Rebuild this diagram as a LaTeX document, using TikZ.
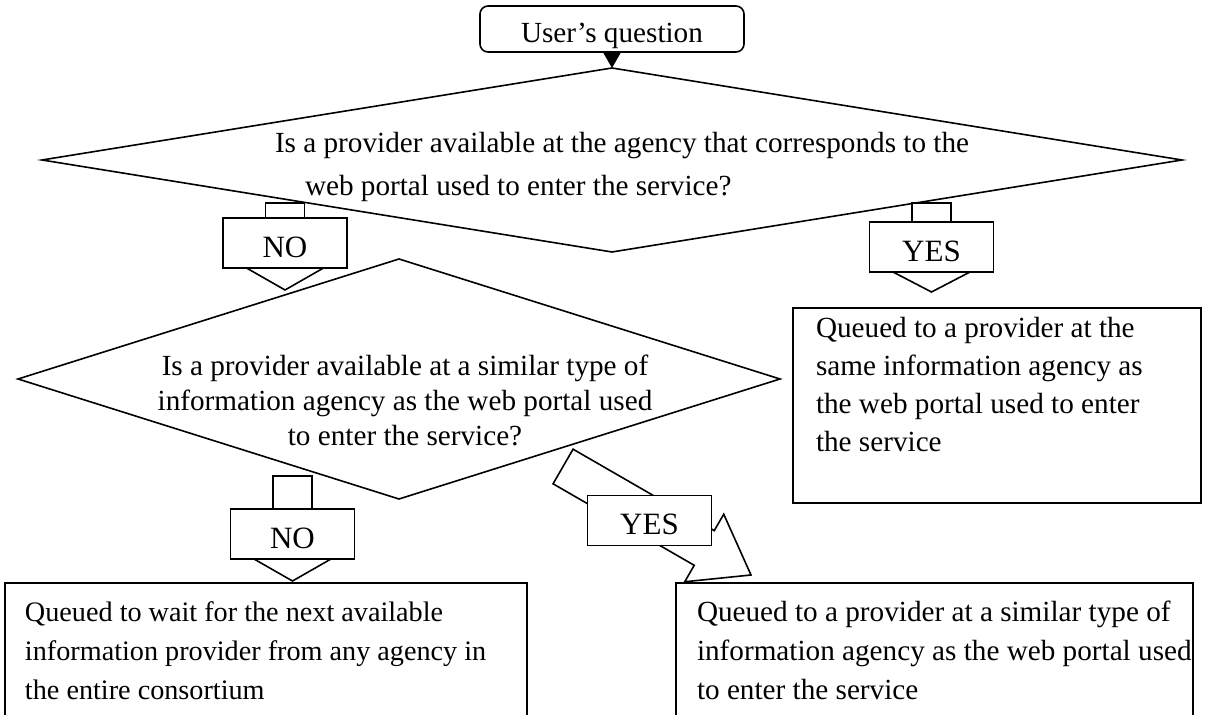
\documentclass[tikz,border=0pt]{standalone}
\usepackage{fontspec}
\setmainfont{Liberation Serif}
\usetikzlibrary{arrows.meta,calc,shapes.geometric}
\begin{document}
\begin{tikzpicture}[x=0.5pt,y=-0.5pt,line width=0.8pt,
  every node/.style={inner sep=0pt,outer sep=0pt},
  txt/.style={font=\fontsize{14.6pt}{19pt}\selectfont,align=left,anchor=base west},
  decision/.style={draw,diamond,fill=white},
  outcome/.style={draw,fill=white},
  tag/.style={draw,fill=white,font=\fontsize{15.5pt}{18pt}\selectfont,
    minimum width=62pt,minimum height=25pt,text height=14.5pt,text depth=0pt},
  part/.style={draw,fill=white,line join=miter}]
\useasboundingbox (0,0) rectangle (1207,715);

% start of the flow
\node[draw,rounded corners=4pt,minimum width=132pt,minimum height=23pt,
  font=\fontsize{14.6pt}{19pt}\selectfont,text height=13.6pt,text depth=0pt]
  (q) at (612,29) {User’s question};

% first decision (text blocks are anchored at the baseline of their last line)
\node[decision,minimum width=570pt,minimum height=92pt] (d1) at (612,160) {};
\node[txt,font=\fontsize{14.6pt}{21.5pt}\selectfont] (d1t) at (275,196)
  {Is a provider available at the agency that corresponds to the\\
   \hspace*{15pt}web portal used to enter the service?};
\draw[-{Triangle[width=9pt,length=8pt]}] (q.south) -- (d1.north);

% NO branch of the first decision
\node[tag] (no1) at (285,243) {NO};
\draw[part] ($(no1.north)+(-19.5,0)$) rectangle ++(39,-15);
\draw[part] ($(no1.south)+(-38.5,0)$) -- ($(no1.south)+(0,22)$) -- ($(no1.south)+(38.5,0)$) -- cycle;

% YES branch of the first decision
\node[tag] (yes1) at (931.5,247) {YES};
\draw[part] ($(yes1.north)+(-19.5,0)$) rectangle ++(39,-19);
\draw[part] ($(yes1.south)+(-38.5,0)$) -- ($(yes1.south)+(0,20)$) -- ($(yes1.south)+(38.5,0)$) -- cycle;

% queued at the same agency
\node[outcome,minimum width=204pt,minimum height=97.5pt] (r1) at (997,405.5) {};
\node[txt] (r1t) at (816,452) {Queued to a provider at the\\same information agency as\\the web portal used to enter\\the service};

% second decision
\node[decision,minimum width=381pt,minimum height=120pt] (d2) at (399,379) {};
\node[txt,align=center,anchor=base,font=\fontsize{14.6pt}{17.5pt}\selectfont] (d2t) at (405,446)
  {Is a provider available at a similar type of\\information agency as the web portal used\\to enter the service?};

% NO branch of the second decision
\node[tag] (no2) at (292.5,534) {NO};
\draw[part] ($(no2.north)+(-19.5,0)$) rectangle ++(39,-33);
\draw[part] ($(no2.south)+(-38.5,0)$) -- ($(no2.south)+(0,22)$) -- ($(no2.south)+(38.5,0)$) -- cycle;

% YES branch of the second decision, slanted block arrow
\begin{scope}[shift={(751,575)},rotate=-30]
  \draw[part] (-217,-20) -- (-54,-20) -- (-54,-39) -- (0,0) -- (-54,39) -- (-54,20) -- (-217,20) -- cycle;
\end{scope}
\node[tag] (yes2) at (649.5,520.5) {YES};

% final outcomes
\node[outcome,minimum width=261pt,minimum height=78.5pt] (b1) at (266,661.5) {};
\node[txt,font=\fontsize{14.1pt}{19.5pt}\selectfont] (b1t) at (25,700)
  {Queued to wait for the next available\\information provider from any agency in\\the entire consortium};
\node[outcome,minimum width=258.5pt,minimum height=78.5pt] (b2) at (934.5,661.5) {};
\node[txt,font=\fontsize{14.6pt}{19.5pt}\selectfont] (b2t) at (697,700)
  {Queued to a provider at a similar type of\\information agency as the web portal used\\to enter the service};
\end{tikzpicture}
\end{document}
